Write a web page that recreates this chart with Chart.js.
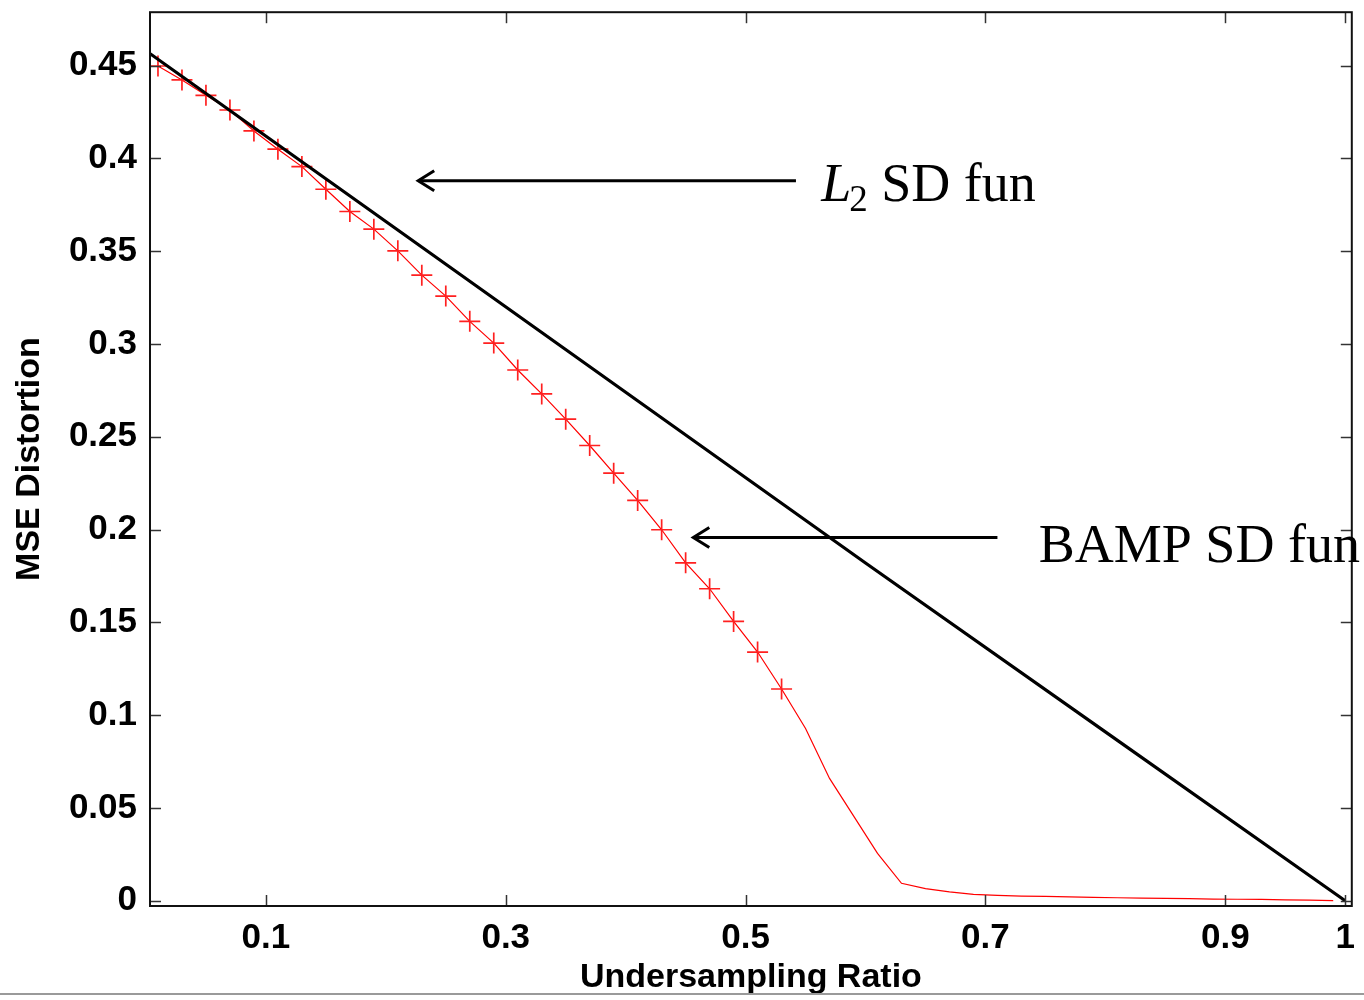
<!DOCTYPE html>
<html>
<head>
<meta charset="utf-8">
<script src="https://cdn.jsdelivr.net/npm/chart.js@4.4.1/dist/chart.umd.min.js"></script>
<style>
  html, body { margin: 0; padding: 0; background: #fff; }
  #wrap { position: relative; width: 1364px; height: 1000px; }
  canvas { display: block; }
</style>
</head>
<body>
<div id="wrap"><canvas id="c" width="1364" height="1000"></canvas></div>
<script>
// ---- data ----
const bampX = [0.01,0.03,0.05,0.07,0.09,0.11,0.13,0.15,0.17,0.19,0.21,0.23,0.25,0.27,0.29,0.31,0.33,0.35,0.37,0.39,0.41,0.43,0.45,0.47,0.49,0.51,0.53,0.55,0.57,0.59,0.61,0.63,0.65,0.67,0.69,0.71,0.73,0.75,0.77,0.79,0.81,0.83,0.85,0.87,0.89,0.91,0.93,0.95,0.97,0.99];
const bampY = [0.4498,0.4423,0.4340,0.4261,0.4148,0.4050,0.3956,0.3834,0.3714,0.3619,0.3502,0.3371,0.3258,0.3122,0.3005,0.2860,0.2731,0.2595,0.2453,0.2304,0.2157,0.1999,0.1821,0.1681,0.1505,0.1340,0.1141,0.0928,0.0659,0.0457,0.0255,0.0094,0.0065,0.0048,0.0034,0.0029,0.0025,0.0023,0.0021,0.0018,0.0016,0.0014,0.0013,0.0011,0.0009,0.0008,0.0007,0.0005,0.0003,0.0001];
const l2X = [0, 0.2, 0.4, 0.6, 0.8, 1.0];
const l2Y = [0.458, 0.366, 0.274, 0.182, 0.091, 0];
const markerLastX = 0.53;
const xTicks = [0.1, 0.3, 0.5, 0.7, 0.9, 1];
const xTickLabels = ['0.1', '0.3', '0.5', '0.7', '0.9', '1'];
const yTicks = [0, 0.05, 0.1, 0.15, 0.2, 0.25, 0.3, 0.35, 0.4, 0.45];
const yTickLabels = ['0', '0.05', '0.1', '0.15', '0.2', '0.25', '0.3', '0.35', '0.4', '0.45'];
const xTitle = 'Undersampling Ratio';
const yTitle = 'MSE Distortion';
const notes = [
  { label: 'L2', tipX: 0.227, tailX: 0.542, arrowY: 0.388, textX: 0.563, textY: 0.377 },
  { label: 'BAMP SD fun', tipX: 0.4564, tailX: 0.710, arrowY: 0.1957, textX: 0.7445, textY: 0.1823 }
];

const tickFont = { family: "'Liberation Sans', Arial, Helvetica, sans-serif", size: 35, weight: 'bold' };
const titleFont = { family: "'Liberation Sans', Arial, Helvetica, sans-serif", size: 34, weight: 'bold' };

const deco = {
  id: 'deco',
  afterDatasetsDraw(chart) {
    const { ctx, chartArea: a, scales: { x, y } } = chart;
    ctx.save();
    const seg = (x1, y1, x2, y2) => { ctx.beginPath(); ctx.moveTo(x1, y1); ctx.lineTo(x2, y2); ctx.stroke(); };
    // inward tick marks on all four sides
    ctx.strokeStyle = '#333'; ctx.lineWidth = 1.5;
    xTicks.forEach(v => {
      const px = Math.round(x.getPixelForValue(v)) + 0.5;
      seg(px, a.bottom, px, a.bottom - 11);
      seg(px, a.top, px, a.top + 11);
    });
    yTicks.forEach(v => {
      const py = Math.round(y.getPixelForValue(v)) + 0.5;
      seg(a.left, py, a.left + 11, py);
      seg(a.right, py, a.right - 11, py);
    });
    // frame
    ctx.strokeStyle = '#111'; ctx.lineWidth = 2;
    ctx.strokeRect(a.left, a.top, a.right - a.left, a.bottom - a.top);
    // arrows
    ctx.strokeStyle = '#000'; ctx.lineWidth = 3; ctx.lineCap = 'butt';
    notes.forEach(n => {
      const tx = x.getPixelForValue(n.tipX), ex = x.getPixelForValue(n.tailX), py = y.getPixelForValue(n.arrowY);
      seg(tx + 1, py, ex, py);
      ctx.beginPath(); ctx.moveTo(tx + 16, py - 10); ctx.lineTo(tx, py); ctx.lineTo(tx + 16, py + 10); ctx.stroke();
    });
    // texts
    ctx.fillStyle = '#000'; ctx.textBaseline = 'alphabetic'; ctx.textAlign = 'left';
    const serif = "'Liberation Serif', 'Times New Roman', serif";
    {
      const n = notes[0];
      let px = x.getPixelForValue(n.textX), py = y.getPixelForValue(n.textY);
      ctx.font = 'italic 54px ' + serif;
      ctx.fillText('L', px, py);
      px += ctx.measureText('L').width;
      ctx.font = '37px ' + serif;
      ctx.fillText('2', px - 2, py + 10);
      px += ctx.measureText('2').width - 2;
      ctx.font = '54px ' + serif;
      ctx.fillText(' SD fun', px, py);
    }
    {
      const n = notes[1];
      ctx.font = '54px ' + serif;
      ctx.fillText(n.label, x.getPixelForValue(n.textX), y.getPixelForValue(n.textY));
    }
    ctx.restore();
  },
  afterDraw(chart) {
    const ctx = chart.ctx;
    ctx.save();
    ctx.strokeStyle = '#9a9a9a'; ctx.lineWidth = 2;
    ctx.beginPath(); ctx.moveTo(0, 994); ctx.lineTo(1364, 994); ctx.stroke();
    ctx.restore();
  }
};

new Chart(document.getElementById('c'), {
  type: 'scatter',
  data: {
    datasets: [
      {
        label: 'L2 SD fun',
        data: l2X.map((v, i) => ({ x: v, y: l2Y[i] })),
        showLine: true,
        borderColor: '#000',
        borderWidth: 3.2,
        pointRadius: 0,
        tension: 0
      },
      {
        label: 'BAMP SD fun',
        data: bampX.map((v, i) => ({ x: v, y: bampY[i] })),
        showLine: true,
        borderColor: '#ff0000',
        backgroundColor: '#ff0000',
        borderWidth: 1.2,
        pointStyle: 'cross',
        pointRadius: ctx => (ctx.raw && ctx.raw.x <= markerLastX + 1e-9 ? 10.5 : 0),
        pointBorderWidth: 1.7,
        pointBorderColor: '#ff2020',
        tension: 0
      }
    ]
  },
  options: {
    responsive: false,
    animation: false,
    devicePixelRatio: 1,
    layout: { padding: { top: 11, right: 4, left: 0, bottom: 0 } },
    plugins: { legend: { display: false }, tooltip: { enabled: false } },
    scales: {
      x: {
        type: 'linear',
        min: 0.00335,
        max: 1.0055,
        afterBuildTicks: s => { s.ticks = xTicks.map(v => ({ value: v })); },
        afterFit: s => { s.height = 94; s.paddingLeft = 0; s.paddingRight = 0; },
        ticks: {
          autoSkip: false, maxRotation: 0, padding: 11, color: '#000', font: tickFont,
          callback: v => { const i = xTicks.findIndex(t => Math.abs(t - v) < 1e-9); return i >= 0 ? xTickLabels[i] : ''; }
        },
        grid: { display: false, drawTicks: false },
        border: { display: false },
        title: { display: true, text: xTitle, color: '#000', font: titleFont, padding: { top: 0, bottom: 2 } }
      },
      y: {
        type: 'linear',
        min: -0.00285,
        max: 0.4788,
        afterBuildTicks: s => { s.ticks = yTicks.map(v => ({ value: v })); },
        afterFit: s => { s.width = 150; s.paddingTop = 0; s.paddingBottom = 0; },
        ticks: {
          autoSkip: false, padding: 13, color: '#000', font: tickFont,
          callback: v => { const i = yTicks.findIndex(t => Math.abs(t - v) < 1e-9); return i >= 0 ? yTickLabels[i] : ''; }
        },
        grid: { display: false, drawTicks: false },
        border: { display: false },
        title: { display: true, text: yTitle, color: '#000', font: titleFont, padding: { top: 9, bottom: 0 } }
      }
    }
  },
  plugins: [deco]
});
</script>
</body>
</html>
